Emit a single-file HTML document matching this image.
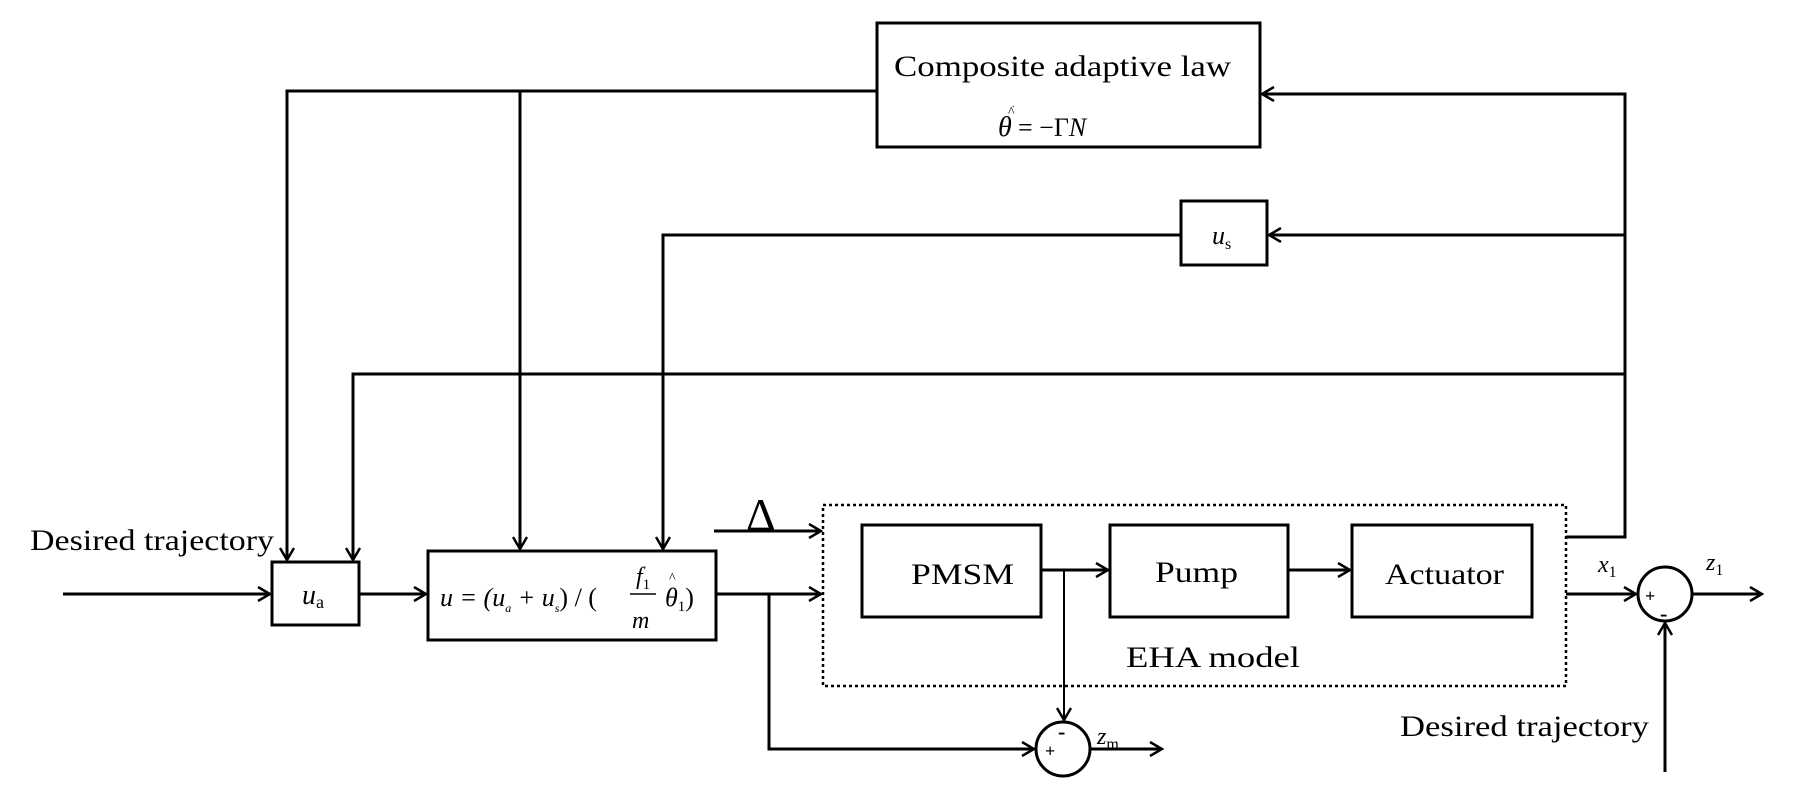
<!DOCTYPE html>
<html><head><meta charset="utf-8"><style>
html,body{margin:0;padding:0;background:#fff}
svg{display:block}
text{font-family:"Liberation Serif",serif;fill:#000}
</style></head><body>
<svg width="1793" height="803" viewBox="0 0 1793 803" xmlns="http://www.w3.org/2000/svg">
<defs>
<marker id="a" markerWidth="16" markerHeight="16" refX="14" refY="8" orient="auto" markerUnits="userSpaceOnUse">
<path d="M2,1 L14,8 L2,15" fill="none" stroke="#000" stroke-width="2.5"/>
</marker>
</defs>
<g fill="none" stroke="#000" stroke-width="3">
<rect x="877" y="23" width="383" height="124"/>
<rect x="1181" y="201" width="86" height="64"/>
<rect x="272" y="562" width="87" height="63"/>
<rect x="428" y="551" width="288" height="89"/>
<rect x="862" y="525" width="179" height="92"/>
<rect x="1110" y="525" width="178" height="92"/>
<rect x="1352" y="525" width="180" height="92"/>
<rect x="823" y="505" width="743" height="181" stroke-dasharray="3,3" stroke-width="2.5"/>
<circle cx="1063" cy="749" r="27"/>
<circle cx="1665" cy="594" r="27"/>
<polyline points="1566,537 1625,537 1625,94 1262,94" marker-end="url(#a)"/>
<polyline points="1625,235 1269,235" marker-end="url(#a)"/>
<polyline points="1625,374 353,374 353,560" marker-end="url(#a)"/>
<polyline points="877,91 287,91 287,560" marker-end="url(#a)"/>
<polyline points="520,91 520,549" marker-end="url(#a)"/>
<polyline points="1181,235 663,235 663,549" marker-end="url(#a)"/>
<polyline points="63,594 270,594" marker-end="url(#a)"/>
<polyline points="359,594 426,594" marker-end="url(#a)"/>
<polyline points="716,594 821,594" marker-end="url(#a)"/>
<polyline points="769,594 769,749 1034,749" marker-end="url(#a)"/>
<polyline points="1090,749 1162,749" marker-end="url(#a)"/>
<polyline points="714,531 821,531" marker-end="url(#a)"/>
<polyline points="1041,570 1108,570" marker-end="url(#a)"/>
<polyline points="1064,570 1064,720" stroke-width="2" marker-end="url(#a)"/>
<polyline points="1288,570 1350,570" marker-end="url(#a)"/>
<polyline points="1566,594 1636,594" marker-end="url(#a)"/>
<polyline points="1692,594 1762,594" marker-end="url(#a)"/>
<polyline points="1665,772 1665,623" marker-end="url(#a)"/>
</g>
<text x="894" y="76" font-size="30" textLength="337" lengthAdjust="spacingAndGlyphs">Composite adaptive law</text>
<text x="1008" y="116" font-size="14">^</text>
<text x="1012" y="107" font-size="10">.</text>
<text x="998" y="136" font-size="28" font-style="italic">θ</text>
<text x="1018" y="136" font-size="26">= −Γ<tspan font-style="italic">N</tspan></text>
<text x="1212" y="244" font-size="26" font-style="italic">u<tspan font-size="16" dy="5" font-style="normal">s</tspan></text>
<text x="302" y="604" font-size="28" font-style="italic">u<tspan font-size="18" dy="4" font-style="normal">a</tspan></text>
<text x="440" y="606" font-size="26" font-style="italic">u = (u<tspan font-size="12" dy="6">a</tspan><tspan dy="-6"> + u</tspan><tspan font-size="12" dy="6">s</tspan><tspan dy="-6" font-style="normal">) / (</tspan></text>
<text x="636" y="584" font-size="24" font-style="italic">f<tspan font-size="15" dy="5" font-style="normal">1</tspan></text>
<line x1="630" y1="594" x2="656" y2="594" stroke="#000" stroke-width="1.5"/>
<text x="632" y="628" font-size="24" font-style="italic">m</text>
<text x="669" y="582" font-size="14">^</text>
<text x="665" y="606" font-size="26" font-style="italic">θ<tspan font-size="15" dy="5" font-style="normal">1</tspan><tspan dy="-5" font-style="normal">)</tspan></text>
<text x="911" y="584" font-size="30" textLength="103" lengthAdjust="spacingAndGlyphs">PMSM</text>
<text x="1155" y="582" font-size="30" textLength="83" lengthAdjust="spacingAndGlyphs">Pump</text>
<text x="1385" y="584" font-size="30" textLength="119" lengthAdjust="spacingAndGlyphs">Actuator</text>
<text x="1126" y="667" font-size="30" textLength="174" lengthAdjust="spacingAndGlyphs">EHA model</text>
<text x="746" y="530" font-size="46">Δ</text>
<text x="30" y="550" font-size="30" textLength="244" lengthAdjust="spacingAndGlyphs">Desired trajectory</text>
<text x="1400" y="736" font-size="30" textLength="249" lengthAdjust="spacingAndGlyphs">Desired trajectory</text>
<text x="1598" y="572" font-size="24" font-style="italic">x<tspan font-size="16" dy="5" font-style="normal">1</tspan></text>
<text x="1706" y="570" font-size="24" font-style="italic">z<tspan font-size="16" dy="5" font-style="normal">1</tspan></text>
<text x="1097" y="744" font-size="24" font-style="italic">z<tspan font-size="16" dy="5" font-style="normal">m</tspan></text>
<text x="1045" y="757" font-size="18" font-weight="bold">+</text>
<text x="1058" y="739" font-size="22" font-weight="bold">-</text>
<text x="1645" y="602" font-size="18" font-weight="bold">+</text>
<text x="1660" y="621" font-size="22" font-weight="bold">-</text>
</svg>
</body></html>
